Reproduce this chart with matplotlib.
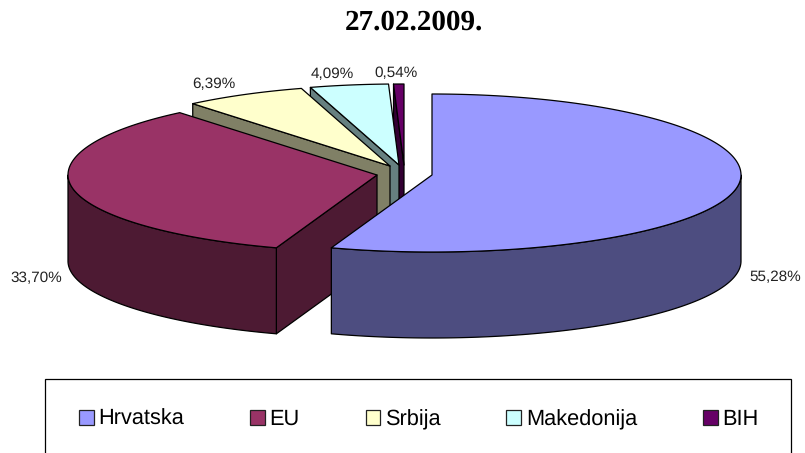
import numpy as np
import matplotlib
matplotlib.use("Agg")
import matplotlib.pyplot as plt
from matplotlib.patches import Polygon, Patch, Rectangle

plt.rcParams["text.hinting"] = "none"

# --- data ---
title = "27.02.2009."
categories = ["Hrvatska", "EU", "Srbija", "Makedonija", "BIH"]
shares = [55.28, 33.70, 6.39, 4.09, 0.54]

# --- style / layout (pixel space) ---
top_colors = ["#9999FF", "#993366", "#FFFFCC", "#CCFFFF", "#660066"]
side_colors = ["#4D4D80", "#4D1A33", "#808066", "#668080", "#330033"]
tips = [(432, 175), (377, 175), (390, 166), (399, 165), (404, 165)]
label_pos = [(775.5, 277), (36.5, 278), (213.5, 84), (332, 74), (396.5, 73)]
RX, RY_BACK, RY_FRONT, DEPTH = 309, 81, 77, 86
LW = 0.9

fig = plt.figure(figsize=(8.05, 4.53), dpi=100)
ax = fig.add_axes([0, 0, 1, 1])
ax.set_xlim(0, 805)
ax.set_ylim(453, 0)
ax.axis("off")


def rim(tip, a0, a1):
    t = np.radians(np.linspace(a0, a1, max(int(abs(a1 - a0) * 2), 2)))
    c = np.cos(t)
    return np.column_stack([tip[0] + RX * np.sin(t),
                            tip[1] - np.where(c > 0, RY_BACK, RY_FRONT) * c])


def draw(points, color, z):
    ax.add_patch(Polygon(points, closed=True, facecolor=color, edgecolor="black",
                         linewidth=LW, joinstyle="round", zorder=z))


edges = np.concatenate([[0], np.cumsum(shares)]) / np.sum(shares) * 360
order = range(len(shares) - 1, -1, -1)   # back to front
for z, i in enumerate(order):
    a0, a1 = edges[i], edges[i + 1]
    tip = np.array(tips[i], float)
    down = np.array([0, DEPTH])
    # radial cut face on the starting side
    if np.sin(np.radians(a0)) < -1e-6:
        p = rim(tip, a0, a0)[0]
        draw([tip, p, p + down, tip + down], side_colors[i], z * 3 + 1)
    # outer wall
    w0, w1 = max(a0, 90), min(a1, 270)
    if w1 > w0:
        arc = rim(tip, w0, w1)
        draw(np.vstack([arc, arc[::-1] + down]), side_colors[i], z * 3 + 2)
    # top face
    draw(np.vstack([[tip], rim(tip, a0, a1)]), top_colors[i], z * 3 + 3)

for share, pos in zip(shares, label_pos):
    ax.text(pos[0], pos[1], f"{share:.2f}%".replace(".", ","), ha="center", va="center",
            fontsize=11, family="Liberation Sans", color="#222222", zorder=50)

ax.text(413.5, 30, title, ha="center", va="baseline", fontsize=21,
        family="Liberation Serif", fontweight="bold", color="black", zorder=50)

# legend box runs off the bottom of the figure
ax.add_patch(Rectangle((45, 379), 746, 90, facecolor="white", edgecolor="black",
                       linewidth=LW, zorder=55))

handles = [Patch(facecolor=c, edgecolor="#222222", linewidth=LW) for c in top_colors]
leg = ax.legend(handles, categories, ncol=5, loc="center left",
                bbox_to_anchor=(79, 419.5), bbox_transform=ax.transData,
                prop={"family": "Liberation Sans", "size": 15.7},
                frameon=False, borderaxespad=0, borderpad=0, columnspacing=3.01,
                handlelength=0.68, handleheight=0.68, handletextpad=0.22,
                labelspacing=0)
leg.set_zorder(60)

fig.savefig("out.png", dpi=100)
